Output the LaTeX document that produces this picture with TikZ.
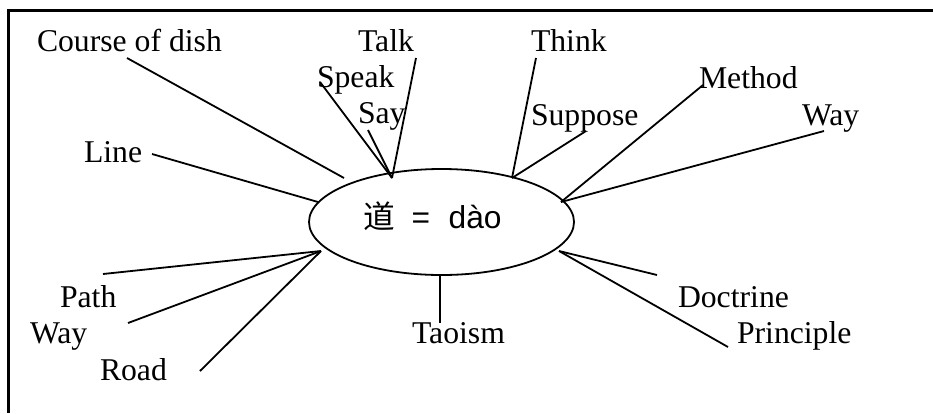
\documentclass[tikz,border=0pt]{standalone}
\usepackage{fontspec}
\setmainfont{Liberation Serif}
\newfontfamily\sansf{Liberation Sans}
\newfontfamily\cjkf{Noto Sans CJK SC}
\usetikzlibrary{shapes.geometric}
\begin{document}
\begin{tikzpicture}[x=1pt,y=-1pt,
  lab/.style={inner sep=0pt, outer sep=0pt, anchor=base west, font=\fontsize{31.7}{38}\selectfont},
  conn/.style={line width=1.8pt},
  frameline/.style={line width=3pt},
  hub/.style={draw, ellipse, line width=1.8pt, minimum width=265pt, minimum height=106pt, inner sep=0pt, outer sep=0pt}]
\useasboundingbox (0,0) rectangle (933,413);
% frame (only left and top edges visible)
\draw[frameline] (8.5,413) -- (8.5,10.5) -- (933,10.5);
% hub
\node[hub] (e) at (441.5,222) {};
\node[lab, font=\fontsize{31.7}{38}\sansf] (t) at (363,228) {{\cjkf 道}\hspace{17pt}=\hspace{18.5pt}dào};
% labels
\node[lab] (course) at (37,51) {Course of dish};
\node[lab] (talk) at (358,51) {Talk};
\node[lab] (speak) at (317,87) {Speak};
\node[lab] (say) at (358,123) {Say};
\node[lab] (line) at (84,162) {Line};
\node[lab] (think) at (531,51) {Think};
\node[lab] (suppose) at (531,125) {Suppose};
\node[lab] (method) at (699,88) {Method};
\node[lab] (wayr) at (802,125) {Way};
\node[lab] (path) at (60,307) {Path};
\node[lab] (wayl) at (30,343) {Way};
\node[lab] (road) at (100,380) {Road};
\node[lab] (taoism) at (412,343) {Taoism};
\node[lab] (doctrine) at (678,307) {Doctrine};
\node[lab] (principle) at (737,343) {Principle};
% hub-side connector ends
\coordinate (pA) at (392,178);
\coordinate (pB) at (512,178);
\coordinate (pC) at (561,202);
\coordinate (pD) at (321,251);
\coordinate (pE) at (559,251);
\coordinate (pCourse) at (344,178);
\coordinate (pLine) at (318,202);
\coordinate (pTao) at (440,275);
% label-side connector ends
\coordinate (qCourse) at (127,58);
\coordinate (qSpeak) at (320,82);
\coordinate (qSay) at (368,130);
\coordinate (qTalk) at (416,58);
\coordinate (qLine) at (152,154);
\coordinate (qThink) at (536,58);
\coordinate (qSuppose) at (586,131);
\coordinate (qMethod) at (703,85);
\coordinate (qWayR) at (824,131);
\coordinate (qPath) at (103,274);
\coordinate (qWayL) at (128,323);
\coordinate (qRoad) at (200,371);
\coordinate (qTao) at (440,323);
\coordinate (qDoctrine) at (657,275);
\coordinate (qPrinciple) at (728,347);
% connectors
\draw[conn] (qCourse) -- (pCourse);
\draw[conn] (qSpeak) -- (pA);
\draw[conn] (qSay) -- (pA);
\draw[conn] (qTalk) -- (pA);
\draw[conn] (qLine) -- (pLine);
\draw[conn] (qThink) -- (pB);
\draw[conn] (qSuppose) -- (pB);
\draw[conn] (qMethod) -- (pC);
\draw[conn] (qWayR) -- (pC);
\draw[conn] (qPath) -- (pD);
\draw[conn] (qWayL) -- (pD);
\draw[conn] (qRoad) -- (pD);
\draw[conn] (pTao) -- (qTao);
\draw[conn] (qDoctrine) -- (pE);
\draw[conn] (qPrinciple) -- (pE);
\end{tikzpicture}
\end{document}
